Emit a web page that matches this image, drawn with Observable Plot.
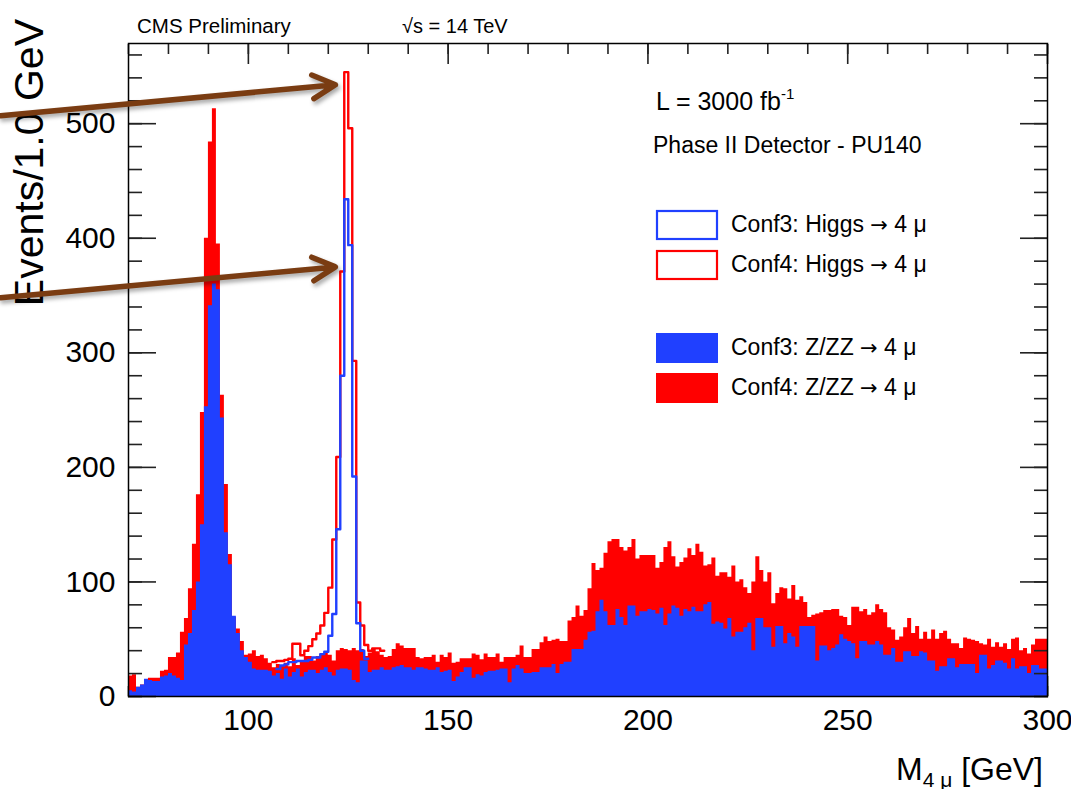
<!DOCTYPE html>
<html>
<head>
<meta charset="utf-8">
<script src="https://cdn.jsdelivr.net/npm/d3@7"></script>
<script src="https://cdn.jsdelivr.net/npm/@observablehq/plot@0.6"></script>
<style>
  html, body { margin: 0; padding: 0; background: #fff; }
  #chart svg { display: block; }
</style>
</head>
<body>
<div id="chart"></div>
<script>
// ---- Data (events per 1 GeV bin, lower bin edge 70 ... 299) ----
const massBins = d3.range(70, 300);

// Conf3: Z/ZZ -> 4 mu (blue filled)
const conf3ZZ = [
  5, 4, 8, 10, 15, 14, 13, 13, 17, 18,
  20, 18, 16, 14, 45, 55, 75, 100, 150, 253,
  341, 360, 355, 243, 143, 115, 70, 55, 40, 34,
  30, 24, 23, 23, 23, 22, 18, 20, 15, 24,
  17, 21, 24, 17, 21, 23, 23, 20, 23, 25,
  21, 18, 23, 24, 24, 23, 14, 12, 31, 31,
  21, 23, 23, 25, 23, 23, 25, 26, 27, 25,
  25, 23, 25, 25, 24, 23, 23, 25, 21, 22,
  23, 13, 17, 21, 25, 25, 16, 19, 18, 21,
  22, 22, 23, 24, 24, 12, 24, 27, 24, 20,
  20, 21, 21, 25, 25, 25, 28, 20, 28, 30,
  30, 41, 41, 41, 49, 56, 57, 74, 84, 74,
  62, 62, 76, 69, 62, 79, 79, 70, 74, 74,
  76, 75, 72, 77, 62, 72, 79, 77, 70, 76,
  74, 78, 74, 74, 80, 82, 63, 65, 64, 59,
  68, 52, 56, 56, 60, 64, 40, 68, 68, 60,
  60, 43, 61, 61, 46, 55, 52, 43, 61, 61,
  61, 61, 31, 44, 44, 40, 42, 45, 54, 50,
  48, 46, 33, 48, 48, 45, 45, 48, 45, 36,
  36, 42, 30, 30, 39, 39, 35, 35, 39, 38,
  31, 31, 22, 26, 26, 33, 33, 25, 28, 28,
  28, 28, 20, 36, 36, 24, 27, 31, 31, 29,
  24, 33, 24, 26, 26, 20, 27, 27, 24, 24
];

// Conf4: Z/ZZ -> 4 mu (red filled)
const conf4ZZ = [
  18, 19, 8, 10, 12, 16, 16, 16, 22, 23,
  34, 34, 38, 56, 68, 94, 133, 176, 248, 400,
  484, 513, 395, 263, 185, 124, 69, 59, 48, 36,
  37, 40, 35, 36, 33, 29, 25, 28, 27, 29,
  26, 33, 27, 31, 35, 35, 31, 35, 37, 38,
  36, 31, 40, 42, 41, 40, 42, 40, 41, 35,
  38, 42, 39, 36, 34, 35, 41, 46, 44, 42,
  42, 42, 34, 33, 34, 34, 36, 30, 36, 34,
  38, 29, 30, 33, 33, 33, 37, 36, 32, 37,
  34, 34, 37, 30, 34, 34, 34, 36, 44, 34,
  34, 41, 41, 47, 52, 48, 49, 50, 48, 48,
  66, 69, 79, 70, 75, 94, 116, 110, 112, 125,
  135, 137, 137, 130, 127, 130, 137, 120, 123, 123,
  123, 123, 112, 117, 130, 135, 122, 113, 117, 121,
  129, 123, 133, 126, 114, 115, 121, 105, 108, 108,
  104, 114, 100, 102, 95, 90, 100, 122, 110, 100,
  108, 81, 90, 95, 94, 85, 97, 84, 87, 82,
  69, 71, 72, 73, 75, 75, 76, 76, 70, 69,
  62, 78, 78, 74, 76, 71, 73, 80, 76, 73,
  60, 58, 49, 52, 60, 68, 55, 61, 50, 56,
  50, 58, 50, 55, 57, 50, 46, 46, 42, 51,
  50, 49, 48, 46, 45, 50, 43, 47, 43, 46,
  41, 50, 51, 40, 42, 37, 45, 50, 50, 50
];

// Higgs -> 4 mu outlines (bins where they stand out)
const conf3HiggsBins = d3.range(107, 130);
const conf3Higgs = [24, 27, 28, 30, 30, 31, 31, 31, 32, 34, 34, 37, 39, 53, 72, 146, 280, 434, 394, 192, 64, 40, 33];
const conf4HiggsBins = d3.range(106, 134);
const conf4Higgs = [30, 31, 31, 32, 33, 46, 46, 36, 40, 44, 50, 55, 62, 73, 95, 137, 209, 371, 545, 496, 293, 82, 62, 45, 40, 42, 42, 40];

// Axis ticks
const xMajor = [100, 150, 200, 250, 300];
const xMinor = d3.range(70, 301, 10);
const yMajor = [0, 100, 200, 300, 400, 500];
const yMinor = d3.range(0, 561, 20);

// Slide annotation arrows (data coordinates: GeV, events)
const arrowStartX = [38, 38];
const arrowStartY = [507, 348];
const arrowEndX = [121.8, 121.8];
const arrowEndY = [534, 375];

// ---- Styles ----
const FONT = "'Liberation Sans', Arial, Helvetica, sans-serif";
const BLUE = "#2040ff";
const RED = "#ff0000";
const BROWN = "#7a3c12";

function histSteps(bins, vals) {
  const pts = bins.map((b, i) => ({x: b, y: vals[i]}));
  pts.push({x: bins[bins.length - 1] + 1, y: vals[vals.length - 1]});
  return pts;
}

const conf3Fill = histSteps(massBins, conf3ZZ);
const conf4Fill = histSteps(massBins, conf4ZZ);
const conf3Line = histSteps(conf3HiggsBins, conf3Higgs);
const conf4Line = histSteps(conf4HiggsBins, conf4Higgs);
const arrows = arrowStartX.map((d, i) => ({x1: d, y1: arrowStartY[i], x2: arrowEndX[i], y2: arrowEndY[i]}));

const tickStyle = {stroke: "#222", strokeWidth: 1.6, fill: "none", label: null};

const plot = Plot.plot({
  width: 1071,
  height: 789,
  marginTop: 43,
  marginRight: 24,
  marginBottom: 93,
  marginLeft: 128,
  x: {domain: [70, 300]},
  y: {domain: [0, 570]},
  style: {fontFamily: FONT, fontSize: "29px", color: "#000", background: "#fff", overflow: "visible"},
  marks: [
    Plot.axisX(xMinor, {anchor: "bottom", tickSize: -10, ...tickStyle}),
    Plot.axisX(xMajor, {anchor: "bottom", tickSize: -20, ...tickStyle}),
    Plot.areaY(conf4Fill, {x: "x", y: "y", curve: "step-after", fill: RED}),
    Plot.areaY(conf3Fill, {x: "x", y: "y", curve: "step-after", fill: BLUE}),
    Plot.line(conf4Line, {x: "x", y: "y", curve: "step-after", stroke: RED, strokeWidth: 2.4}),
    Plot.line(conf3Line, {x: "x", y: "y", curve: "step-after", stroke: BLUE, strokeWidth: 2.4}),
    Plot.axisX(xMinor, {anchor: "top", tickSize: -10, ...tickStyle}),
    Plot.axisX(xMajor, {anchor: "top", tickSize: -20, ...tickStyle}),
    Plot.axisY(yMinor, {anchor: "left", tickSize: -14, ...tickStyle}),
    Plot.axisY(yMajor, {anchor: "left", tickSize: -28, ...tickStyle}),
    Plot.axisY(yMinor, {anchor: "right", tickSize: -14, ...tickStyle}),
    Plot.axisY(yMajor, {anchor: "right", tickSize: -28, ...tickStyle}),
    Plot.axisX(xMajor, {anchor: "bottom", tickSize: 0, tickPadding: 12, fontSize: 30, fill: "#000", label: null}),
    Plot.axisY(yMajor, {anchor: "left", tickSize: 0, tickPadding: 13, fontSize: 30, fill: "#000", label: null}),
    Plot.frame({stroke: "#000", strokeWidth: 1.5}),
    Plot.arrow(arrows, {x1: "x1", y1: "y1", x2: "x2", y2: "y2", stroke: BROWN, strokeWidth: 5.5, headLength: 7, headAngle: 55})
  ]
});

document.getElementById("chart").append(plot);

// ---- Annotations, titles and legend ----
const svg = d3.select(plot);

function addText(x, y, str, size, opts = {}) {
  const t = svg.append("text")
    .attr("x", x).attr("y", y)
    .attr("font-family", FONT)
    .attr("font-size", size)
    .attr("fill", "#000")
    .attr("text-anchor", opts.anchor || "start")
    .text(str);
  return t;
}

addText(137, 33, "CMS Preliminary", 20.5);
addText(402, 33, "\u221As = 14 TeV", 20);

// Luminosity with superscript
const lum = addText(656, 110, "L = 3000 fb", 25);
lum.append("tspan").attr("dy", -11).attr("font-size", 15).text("-1");
addText(653, 153, "Phase II Detector - PU140", 23);

// Legend
const legend = [
  {pre: "Conf3: Higgs ", color: BLUE, filled: false, y: 210},
  {pre: "Conf4: Higgs ", color: RED, filled: false, y: 250},
  {pre: "Conf3: Z/ZZ ", color: BLUE, filled: true, y: 333},
  {pre: "Conf4: Z/ZZ ", color: RED, filled: true, y: 373}
];
legend.forEach(d => {
  svg.append("rect")
    .attr("x", d.filled ? 656 : 657).attr("y", d.filled ? d.y : d.y + 1)
    .attr("width", d.filled ? 62 : 60).attr("height", d.filled ? 30 : 28)
    .attr("fill", d.filled ? d.color : "#fff")
    .attr("stroke", d.filled ? "none" : d.color)
    .attr("stroke-width", 2.2);
  const t = addText(731, d.y + 22, d.pre, 23);
  t.append("tspan").attr("font-family", "'DejaVu Sans', sans-serif").attr("font-size", 21).text("\u2192");
  t.append("tspan").text(" 4 \u03BC");
});

// x-axis title M_{4 mu} [GeV]
const xt = addText(1043, 780, "", 32, {anchor: "end"});
xt.append("tspan").text("M");
xt.append("tspan").attr("dy", 7).attr("font-size", 21).text("4 \u03BC");
xt.append("tspan").attr("dy", -7).text(" [GeV]");

// y-axis title
svg.append("text")
  .attr("transform", "translate(43,19) rotate(-90)")
  .attr("font-family", FONT)
  .attr("font-size", 41)
  .attr("text-anchor", "end")
  .attr("fill", "#000")
  .text("Events/1.0 GeV");

// arrows on top of everything, with a soft shadow
svg.selectAll('g[aria-label="arrow"]')
  .style("filter", "drop-shadow(2px 3px 2px rgba(0,0,0,0.35))")
  .raise();
</script>
</body>
</html>
